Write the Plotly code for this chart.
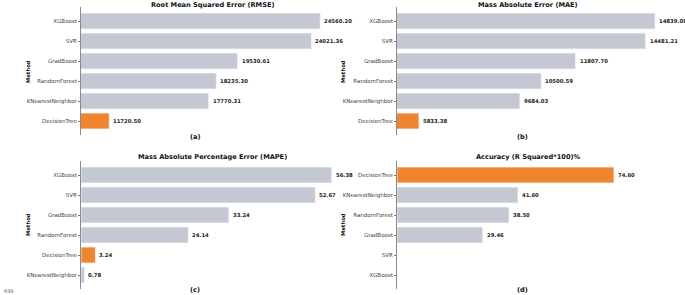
import plotly.graph_objects as go

W, H = 685, 295

# ---------------- data ----------------
rmse_methods = ["XGBoost", "SVR", "GradBoost", "RandomForest", "KNearestNeighbor", "DecisionTree"]
rmse_values = [24560.20, 24021.36, 19530.61, 18235.30, 17770.31, 11720.50]

mae_methods = ["XGBoost", "SVR", "GradBoost", "RandomForest", "KNearestNeighbor", "DecisionTree"]
mae_values = [14839.08, 14481.21, 11807.70, 10500.59, 9684.03, 5833.38]

mape_methods = ["XGBoost", "SVR", "GradBoost", "RandomForest", "DecisionTree", "KNearestNeighbor"]
mape_values = [56.38, 52.67, 33.24, 24.14, 3.24, 0.78]

acc_methods = ["DecisionTree", "KNearestNeighbor", "RandomForest", "GradBoost", "SVR", "XGBoost"]
acc_values = [74.60, 41.60, 38.50, 29.46, None, None]

titles = ["Root Mean Squared Error (RMSE)", "Mass Absolute Error (MAE)",
          "Mass Absolute Percentage Error (MAPE)", "Accuracy (R Squared*100)%"]
sublabels = ["(a)", "(b)", "(c)", "(d)"]

GRAY = "#c3c8d2"
ORANGE = "#f0852f"
FONT = "DejaVu Sans"

def px_x(p):
    return p / W

def px_y(p):
    return 1 - p / H

panels = [
    dict(methods=rmse_methods, values=rmse_values, dom_x=(81, 340), dom_y=(7, 135), rng=(10000, 25761),
         title_xy=(212, 5), lab_xy=(195, 137), meth_xy=(28, 72)),
    dict(methods=mae_methods, values=mae_values, dom_x=(397, 670), dom_y=(7, 135), rng=(4994, 15410),
         title_xy=(528, 5), lab_xy=(522, 137), meth_xy=(343, 72)),
    dict(methods=mape_methods, values=mape_values, dom_x=(81, 340), dom_y=(161, 289), rng=(0, 58.23),
         title_xy=(213, 157), lab_xy=(195, 290), meth_xy=(28, 225)),
    dict(methods=acc_methods, values=acc_values, dom_x=(397, 670), dom_y=(161, 289), rng=(0, 93.85),
         title_xy=(528, 157), lab_xy=(522, 290), meth_xy=(343, 225)),
]

fig = go.Figure()
annotations = []
layout = {}

for i, p in enumerate(panels):
    k = "" if i == 0 else str(i + 1)
    xa, ya = "x" + k, "y" + k
    colors = [ORANGE if m == "DecisionTree" else GRAY for m in p["methods"]]
    fig.add_trace(go.Bar(
        y=p["methods"], x=p["values"], orientation="h", xaxis=xa, yaxis=ya,
        marker=dict(color=colors, line=dict(color="#f4f5f7", width=0.8)),
        width=0.8, showlegend=False, hoverinfo="x+y",
    ))
    layout["xaxis" + k] = dict(
        domain=[px_x(p["dom_x"][0]), px_x(p["dom_x"][1])], range=list(p["rng"]),
        anchor=ya, showticklabels=False, showgrid=False, zeroline=False, showline=False, ticks="",
    )
    layout["yaxis" + k] = dict(
        domain=[px_y(p["dom_y"][1]), px_y(p["dom_y"][0])], anchor=xa,
        type="category", categoryorder="array", categoryarray=p["methods"],
        range=[5.7, -0.7], showgrid=False, zeroline=False,
        showline=True, linecolor="#8a8a8a", linewidth=1,
        ticks="outside", ticklen=2, tickwidth=0.6, tickcolor="#777",
        tickfont=dict(family=FONT, size=5.5, color="#444"),
    )
    for m, v in zip(p["methods"], p["values"]):
        if v is None:
            continue
        annotations.append(dict(
            x=v, y=m, xref=xa, yref=ya, text=f"{v:.2f}", showarrow=False,
            xanchor="left", yanchor="middle", xshift=2,
            font=dict(family=FONT, size=5.3, color="#1a1a1a", weight="bold"),
        ))
    annotations.append(dict(
        x=px_x(p["title_xy"][0]), y=px_y(p["title_xy"][1]), xref="paper", yref="paper",
        text=titles[i], showarrow=False, xanchor="center", yanchor="middle",
        font=dict(family=FONT, size=6.6, color="#111", weight="bold"),
    ))
    annotations.append(dict(
        x=px_x(p["lab_xy"][0]), y=px_y(p["lab_xy"][1]), xref="paper", yref="paper",
        text=sublabels[i], showarrow=False, xanchor="center", yanchor="middle",
        font=dict(family=FONT, size=6.6, color="#111", weight="bold"),
    ))
    annotations.append(dict(
        x=px_x(p["meth_xy"][0]), y=px_y(p["meth_xy"][1]), xref="paper", yref="paper",
        text="Method", showarrow=False, xanchor="center", yanchor="middle", textangle=-90,
        font=dict(family=FONT, size=5.3, color="#111", weight="bold"),
    ))

annotations.append(dict(
    x=px_x(2), y=px_y(291), xref="paper", yref="paper", text="699", showarrow=False,
    xanchor="left", yanchor="middle", font=dict(family=FONT, size=5, color="#666"),
))

fig.update_layout(
    width=W, height=H, margin=dict(l=0, r=0, t=0, b=0),
    paper_bgcolor="white", plot_bgcolor="white",
    annotations=annotations, bargap=0.2, **layout,
)

fig.write_html(
    "out.html",
    config={"displayModeBar": False},
    post_script="document.body.style.margin='0';document.body.style.overflow='hidden';",
)
